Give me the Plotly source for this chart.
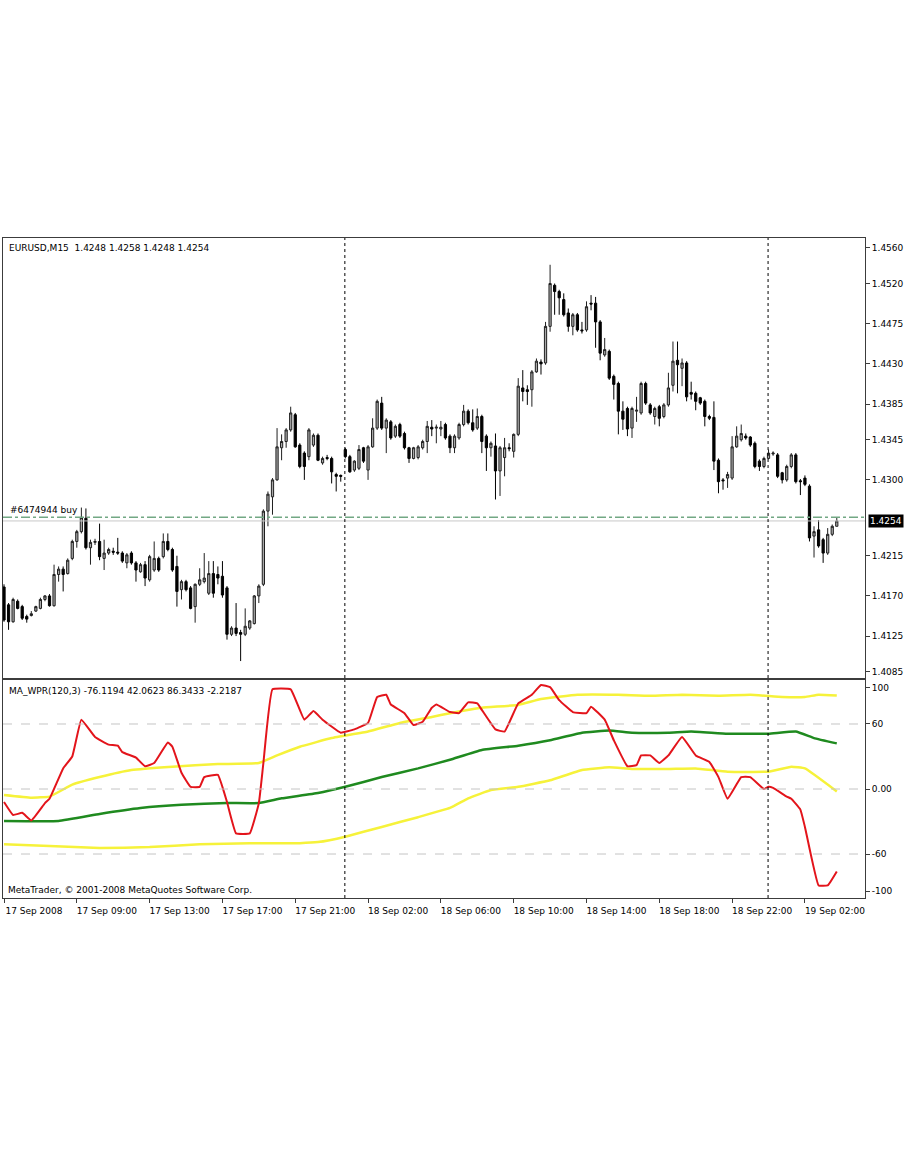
import plotly.graph_objs as go
from plotly.subplots import make_subplots

# --- EURUSD M15 bars (17 Sep 2008 05:00 .. 19 Sep 2008 02:45) ---
bar_idx = list(range(184))

opens = [
    1.4180, 1.4160, 1.4141, 1.4164, 1.4158, 1.4147, 1.4148, 1.4153, 1.4156, 1.4166,
    1.4170, 1.4159, 1.4194, 1.4200, 1.4195, 1.4212, 1.4231, 1.4242, 1.4257, 1.4224,
    1.4230, 1.4231, 1.4212, 1.4218, 1.4220, 1.4219, 1.4218, 1.4207, 1.4218, 1.4207,
    1.4197, 1.4205, 1.4188, 1.4199, 1.4212, 1.4214, 1.4231, 1.4222, 1.4203, 1.4177,
    1.4186, 1.4179, 1.4158, 1.4183, 1.4186, 1.4173, 1.4195, 1.4194, 1.4192, 1.4179,
    1.4127, 1.4134, 1.4129, 1.4127, 1.4134, 1.4139, 1.4170, 1.4183, 1.4265, 1.4281,
    1.4300, 1.4336, 1.4343, 1.4356, 1.4373, 1.4339, 1.4330, 1.4326, 1.4339, 1.4350,
    1.4319, 1.4325, 1.4324, 1.4306, 1.4305, 1.4334, 1.4326, 1.4311, 1.4313, 1.4336,
    1.4311, 1.4337, 1.4358, 1.4386, 1.4358, 1.4365, 1.4349, 1.4362, 1.4352, 1.4336,
    1.4324, 1.4325, 1.4336, 1.4343, 1.4359, 1.4358, 1.4357, 1.4362, 1.4349, 1.4336,
    1.4347, 1.4362, 1.4377, 1.4364, 1.4358, 1.4371, 1.4349, 1.4336, 1.4338, 1.4310,
    1.4325, 1.4336, 1.4332, 1.4351, 1.4403, 1.4401, 1.4401, 1.4421, 1.4432, 1.4431,
    1.4472, 1.4518, 1.4511, 1.4502, 1.4487, 1.4472, 1.4485, 1.4468, 1.4468, 1.4498,
    1.4498, 1.4477, 1.4440, 1.4444, 1.4416, 1.4408, 1.4377, 1.4380, 1.4358, 1.4377,
    1.4375, 1.4408, 1.4384, 1.4371, 1.4382, 1.4371, 1.4384, 1.4406, 1.4434, 1.4425,
    1.4431, 1.4398, 1.4397, 1.4392, 1.4388, 1.4371, 1.4370, 1.4322, 1.4300, 1.4302,
    1.4302, 1.4337, 1.4345, 1.4349, 1.4348, 1.4341, 1.4321, 1.4315, 1.4324, 1.4329,
    1.4328, 1.4308, 1.4300, 1.4315, 1.4328, 1.4299, 1.4302, 1.4293, 1.4237, 1.4244,
    1.4233, 1.4218, 1.4239, 1.4248,
]
highs = [
    1.4183, 1.4162, 1.4168, 1.4166, 1.4160, 1.4149, 1.4153, 1.4159, 1.4168, 1.4171,
    1.4172, 1.4205, 1.4203, 1.4203, 1.4212, 1.4233, 1.4244, 1.4269, 1.4268, 1.4233,
    1.4234, 1.4251, 1.4233, 1.4224, 1.4224, 1.4235, 1.4220, 1.4218, 1.4220, 1.4209,
    1.4207, 1.4209, 1.4216, 1.4231, 1.4214, 1.4240, 1.4240, 1.4224, 1.4215, 1.4188,
    1.4188, 1.4181, 1.4184, 1.4201, 1.4218, 1.4209, 1.4209, 1.4203, 1.4209, 1.4181,
    1.4136, 1.4162, 1.4132, 1.4156, 1.4143, 1.4171, 1.4183, 1.4267, 1.4287, 1.4302,
    1.4358, 1.4351, 1.4358, 1.4382, 1.4375, 1.4341, 1.4332, 1.4358, 1.4352, 1.4352,
    1.4326, 1.4328, 1.4326, 1.4308, 1.4306, 1.4336, 1.4328, 1.4322, 1.4339, 1.4337,
    1.4339, 1.4369, 1.4390, 1.4393, 1.4369, 1.4367, 1.4362, 1.4364, 1.4354, 1.4337,
    1.4337, 1.4339, 1.4345, 1.4366, 1.4367, 1.4362, 1.4366, 1.4364, 1.4351, 1.4351,
    1.4364, 1.4384, 1.4379, 1.4379, 1.4380, 1.4373, 1.4351, 1.4343, 1.4352, 1.4338,
    1.4347, 1.4341, 1.4352, 1.4414, 1.4423, 1.4406, 1.4423, 1.4436, 1.4435, 1.4477,
    1.4541, 1.4520, 1.4513, 1.4509, 1.4492, 1.4487, 1.4487, 1.4477, 1.4500, 1.4507,
    1.4505, 1.4479, 1.4459, 1.4446, 1.4418, 1.4410, 1.4388, 1.4382, 1.4382, 1.4393,
    1.4410, 1.4410, 1.4386, 1.4382, 1.4384, 1.4386, 1.4420, 1.4455, 1.4455, 1.4436,
    1.4433, 1.4410, 1.4399, 1.4393, 1.4390, 1.4373, 1.4388, 1.4324, 1.4302, 1.4309,
    1.4349, 1.4360, 1.4362, 1.4352, 1.4349, 1.4343, 1.4323, 1.4326, 1.4334, 1.4332,
    1.4330, 1.4309, 1.4317, 1.4330, 1.4330, 1.4301, 1.4305, 1.4295, 1.4248, 1.4255,
    1.4235, 1.4246, 1.4250, 1.4258,
]
lows = [
    1.4141, 1.4132, 1.4140, 1.4155, 1.4143, 1.4140, 1.4147, 1.4152, 1.4155, 1.4164,
    1.4158, 1.4158, 1.4186, 1.4175, 1.4194, 1.4210, 1.4224, 1.4240, 1.4222, 1.4205,
    1.4227, 1.4210, 1.4199, 1.4216, 1.4216, 1.4216, 1.4207, 1.4201, 1.4205, 1.4186,
    1.4196, 1.4181, 1.4186, 1.4197, 1.4197, 1.4212, 1.4220, 1.4197, 1.4158, 1.4166,
    1.4175, 1.4155, 1.4140, 1.4181, 1.4184, 1.4171, 1.4168, 1.4183, 1.4168, 1.4121,
    1.4125, 1.4125, 1.4097, 1.4125, 1.4132, 1.4138, 1.4162, 1.4181, 1.4248, 1.4261,
    1.4299, 1.4322, 1.4336, 1.4354, 1.4336, 1.4313, 1.4300, 1.4322, 1.4337, 1.4321,
    1.4317, 1.4322, 1.4296, 1.4287, 1.4298, 1.4324, 1.4308, 1.4309, 1.4311, 1.4319,
    1.4300, 1.4336, 1.4356, 1.4356, 1.4330, 1.4345, 1.4347, 1.4347, 1.4334, 1.4319,
    1.4323, 1.4323, 1.4334, 1.4330, 1.4349, 1.4341, 1.4349, 1.4345, 1.4330, 1.4330,
    1.4345, 1.4360, 1.4362, 1.4354, 1.4356, 1.4330, 1.4310, 1.4326, 1.4278, 1.4282,
    1.4304, 1.4332, 1.4325, 1.4349, 1.4388, 1.4384, 1.4382, 1.4420, 1.4418, 1.4429,
    1.4466, 1.4485, 1.4485, 1.4483, 1.4466, 1.4462, 1.4466, 1.4464, 1.4466, 1.4490,
    1.4448, 1.4434, 1.4438, 1.4412, 1.4390, 1.4351, 1.4356, 1.4349, 1.4347, 1.4365,
    1.4373, 1.4384, 1.4373, 1.4362, 1.4360, 1.4369, 1.4382, 1.4399, 1.4397, 1.4405,
    1.4388, 1.4390, 1.4378, 1.4384, 1.4360, 1.4367, 1.4311, 1.4285, 1.4289, 1.4291,
    1.4300, 1.4336, 1.4343, 1.4345, 1.4337, 1.4313, 1.4310, 1.4313, 1.4323, 1.4327,
    1.4302, 1.4296, 1.4298, 1.4313, 1.4296, 1.4283, 1.4293, 1.4231, 1.4213, 1.4224,
    1.4207, 1.4216, 1.4237, 1.4248,
]
closes = [
    1.4143, 1.4141, 1.4166, 1.4156, 1.4145, 1.4144, 1.4150, 1.4158, 1.4166, 1.4170,
    1.4159, 1.4194, 1.4200, 1.4194, 1.4210, 1.4231, 1.4242, 1.4258, 1.4224, 1.4230,
    1.4231, 1.4214, 1.4218, 1.4222, 1.4219, 1.4218, 1.4209, 1.4216, 1.4207, 1.4199,
    1.4205, 1.4190, 1.4214, 1.4212, 1.4199, 1.4231, 1.4222, 1.4199, 1.4175, 1.4186,
    1.4177, 1.4156, 1.4183, 1.4188, 1.4190, 1.4195, 1.4173, 1.4190, 1.4171, 1.4127,
    1.4134, 1.4128, 1.4127, 1.4136, 1.4142, 1.4170, 1.4181, 1.4265, 1.4284, 1.4300,
    1.4337, 1.4343, 1.4356, 1.4375, 1.4337, 1.4315, 1.4315, 1.4356, 1.4350, 1.4322,
    1.4324, 1.4324, 1.4309, 1.4304, 1.4304, 1.4326, 1.4309, 1.4321, 1.4334, 1.4321,
    1.4337, 1.4358, 1.4388, 1.4358, 1.4367, 1.4347, 1.4360, 1.4349, 1.4336, 1.4324,
    1.4336, 1.4337, 1.4343, 1.4360, 1.4357, 1.4359, 1.4359, 1.4347, 1.4336, 1.4349,
    1.4362, 1.4377, 1.4364, 1.4356, 1.4371, 1.4343, 1.4336, 1.4341, 1.4310, 1.4336,
    1.4336, 1.4335, 1.4351, 1.4405, 1.4399, 1.4399, 1.4421, 1.4433, 1.4430, 1.4472,
    1.4520, 1.4511, 1.4504, 1.4485, 1.4472, 1.4485, 1.4468, 1.4467, 1.4494, 1.4497,
    1.4477, 1.4442, 1.4446, 1.4414, 1.4407, 1.4377, 1.4368, 1.4357, 1.4380, 1.4378,
    1.4408, 1.4386, 1.4375, 1.4380, 1.4369, 1.4384, 1.4403, 1.4433, 1.4429, 1.4431,
    1.4393, 1.4396, 1.4388, 1.4386, 1.4371, 1.4369, 1.4321, 1.4298, 1.4299, 1.4306,
    1.4337, 1.4349, 1.4352, 1.4347, 1.4339, 1.4315, 1.4315, 1.4324, 1.4330, 1.4330,
    1.4304, 1.4300, 1.4315, 1.4328, 1.4298, 1.4298, 1.4295, 1.4235, 1.4242, 1.4226,
    1.4218, 1.4239, 1.4248, 1.4254,
]

time_ticks = [0, 16, 32, 48, 64, 80, 96, 112, 128, 144, 160, 176]
time_labels = ["17 Sep 2008", "17 Sep 09:00", "17 Sep 13:00", "17 Sep 17:00",
               "17 Sep 21:00", "18 Sep 02:00", "18 Sep 06:00", "18 Sep 10:00",
               "18 Sep 14:00", "18 Sep 18:00", "18 Sep 22:00", "19 Sep 02:00"]

price_ticks = [1.4560, 1.4520, 1.4475, 1.4430, 1.4385, 1.4345,
               1.4300, 1.4215, 1.4170, 1.4125, 1.4085]
last_price = 1.4254
order_price = 1.4258
separators = [74.9, 167.9]

# --- MA_WPR(120,3) indicator lines (bar index, value) ---
wpr_x = [0, 2, 4, 6, 9, 10, 13, 15, 17, 20, 23, 25, 26, 29, 31, 33, 36, 37, 39, 41,
         43, 44, 47, 49, 51, 54, 56, 57, 59, 63, 66, 68, 70, 74, 77, 80, 82, 84, 85, 88,
         90, 92, 94, 95, 98, 100, 102, 104, 105, 108, 110, 113, 116, 118, 120, 122, 125,
         128, 129, 132, 134, 137, 139, 140, 142, 144, 146, 149, 152, 155, 157, 159, 162,
         164, 167, 168, 169, 172, 173, 175, 176, 179, 181, 183]
wpr_y = [-12, -24, -22, -29, -13, -9, 19, 30, 64, 48, 41, 40, 34, 29, 21, 24, 43, 39, 15, 2,
         2, 11, 13, -12, -41, -41, -13, 24, 92, 92, 64, 72, 64, 52, 55, 61, 85, 87, 78, 70,
         59, 62, 75, 78, 71, 70, 80, 79, 73, 55, 53, 79, 87, 96, 94, 82, 71,
         70, 76, 64, 45, 21, 22, 31, 31, 24, 31, 48, 31, 25, 11, -9, 11,
         11, 0, 2, 1, -7, -9, -19, -35, -89, -89, -76.1]

upper_x = [0, 6, 10, 15, 21, 28, 37, 47, 56, 60, 65, 72, 80, 87, 94, 98, 105, 113, 118,
           126, 135, 142, 149, 157, 164, 171, 176, 179, 183]
upper_y = [-5.5, -8, -7, 4, 11, 17.5, 20.6, 23, 24, 31, 39, 47, 53, 61, 66.5, 70, 75, 77.6, 83,
           87, 87, 86, 87, 86, 87, 85, 85, 87, 86.3]

mid_x = [0, 12, 21, 30, 39, 49, 56, 61, 69, 75, 83, 91, 98, 105, 113, 120, 127, 133, 138,
         146, 151, 159, 168, 174, 178, 183]
mid_y = [-29.5, -29.5, -23, -17.5, -14.5, -13, -13, -8.6, -3.7, 2, 11, 19, 27, 36, 40, 45, 52, 54, 52,
         52, 53, 51, 51, 53, 47, 42.1]

lower_x = [0, 10, 21, 32, 43, 54, 65, 69, 75, 83, 91, 98, 102, 107, 113, 120, 127, 133, 138,
           146, 152, 159, 168, 173, 176, 183]
lower_y = [-51, -52.6, -54.5, -53.6, -51, -50, -50, -49, -44, -35, -26, -17.5, -8.6, -1, 2, 8, 17.5, 20, 18.5,
           18.5, 19, 16, 16, 20.6, 19, -2.2]

wpr_ticks = [93.3, 60, 0, -60, -94.2]
wpr_labels = ["100", "60", "0.00", "-60", "-100"]

FONT = "DejaVu Sans"

fig = make_subplots(rows=2, cols=1, shared_xaxes=True, vertical_spacing=0.003)

fig.add_trace(go.Candlestick(
    x=bar_idx, open=opens, high=highs, low=lows, close=closes,
    increasing=dict(line=dict(color="#202020", width=1), fillcolor="#a8a8a8"),
    decreasing=dict(line=dict(color="#000000", width=1), fillcolor="#000000"),
    whiskerwidth=0, showlegend=False, hoverinfo="skip"), row=1, col=1)

# indicator: bands first, red WPR on top
for xs, ys, col, w in [(upper_x, upper_y, "#f6f23a", 2.5), (lower_x, lower_y, "#f6f23a", 2.5),
                       (mid_x, mid_y, "#1f8a1f", 2.5), (wpr_x, wpr_y, "#e3141b", 2)]:
    fig.add_trace(go.Scatter(x=xs, y=ys, mode="lines", showlegend=False, hoverinfo="skip",
                             line=dict(color=col, width=w, shape="spline", smoothing=0.3)),
                  row=2, col=1)

# price lines
fig.add_shape(type="line", xref="x domain", yref="y", x0=0, x1=1, y0=last_price, y1=last_price,
              line=dict(color="#c8c8c8", width=1))
fig.add_shape(type="line", xref="x domain", yref="y", x0=0, x1=1, y0=order_price, y1=order_price,
              line=dict(color="#72a884", width=1.5, dash="dashdot"))

# indicator levels
for lv in [60, 0, -60]:
    fig.add_shape(type="line", xref="x2 domain", yref="y2", x0=0, x1=1, y0=lv, y1=lv,
                  line=dict(color="#c4c4c4", width=1, dash="dash"))

# day separators
for sx in separators:
    for yr in ["y domain", "y2 domain"]:
        fig.add_shape(type="line", xref="x", yref=yr, x0=sx, x1=sx, y0=0, y1=1,
                      line=dict(color="#000000", width=1, dash="dot"))

txt = dict(family=FONT, size=9, color="#000000")
fig.add_annotation(xref="x domain", yref="y domain", x=0, y=1, xanchor="left", yanchor="top",
                   xshift=4, yshift=-3, showarrow=False, font=txt,
                   text="EURUSD,M15\u00a0\u00a01.4248 1.4258 1.4248 1.4254")
fig.add_annotation(xref="x domain", yref="y", x=0, y=order_price, xanchor="left", yanchor="bottom",
                   xshift=5, showarrow=False, font=txt, text="#6474944 buy")
fig.add_annotation(xref="x domain", yref="y", x=1, y=last_price, xanchor="left", yanchor="middle",
                   xshift=3, showarrow=False, bgcolor="#000000", borderpad=1,
                   font=dict(family=FONT, size=9, color="#ffffff"), text="1.4254")
fig.add_annotation(xref="x2 domain", yref="y2 domain", x=0, y=1, xanchor="left", yanchor="top",
                   xshift=4, yshift=-4, showarrow=False, font=txt,
                   text="MA_WPR(120,3) -76.1194 42.0623 86.3433 -2.2187")
fig.add_annotation(xref="x2 domain", yref="y2 domain", x=0, y=0, xanchor="left", yanchor="bottom",
                   xshift=3, yshift=1, showarrow=False, font=txt,
                   text="MetaTrader, \u00a9 2001-2008 MetaQuotes Software Corp.")

frame = dict(showline=True, mirror=True, linecolor="#3c3c3c", linewidth=1, showgrid=False, zeroline=False)

fig.update_layout(
    width=910, height=1155,
    margin=dict(l=3, r=45, t=238, b=257),
    paper_bgcolor="#ffffff", plot_bgcolor="#ffffff",
    font=dict(family=FONT, size=9, color="#000000"),
    showlegend=False,
    xaxis=dict(domain=[0, 1], range=[-0.22, 189.2], showticklabels=False, ticks="",
               rangeslider=dict(visible=False), **frame),
    xaxis2=dict(domain=[0, 1], range=[-0.22, 189.2], tickmode="array", tickvals=time_ticks,
                ticktext=time_labels, ticks="outside", ticklen=4, tickcolor="#3c3c3c",
                ticklabelshift=30, rangeslider=dict(visible=False), **frame),
    yaxis=dict(domain=[0.3333, 1], range=[1.4078, 1.4571], side="right", tickmode="array",
               tickvals=price_ticks, ticktext=["%.4f" % v for v in price_ticks],
               ticks="outside", ticklen=4, tickcolor="#3c3c3c", **frame),
    yaxis2=dict(domain=[0, 0.3303], range=[-100.6, 100.6], side="right", tickmode="array",
                tickvals=wpr_ticks, ticktext=wpr_labels,
                ticks="outside", ticklen=4, tickcolor="#3c3c3c", **frame),
)

# page body has a default 8px margin; drop it so the chart sits at the window origin
fig.write_html("out.html", config={"displayModeBar": False},
               post_script="document.body.style.margin='0';")
